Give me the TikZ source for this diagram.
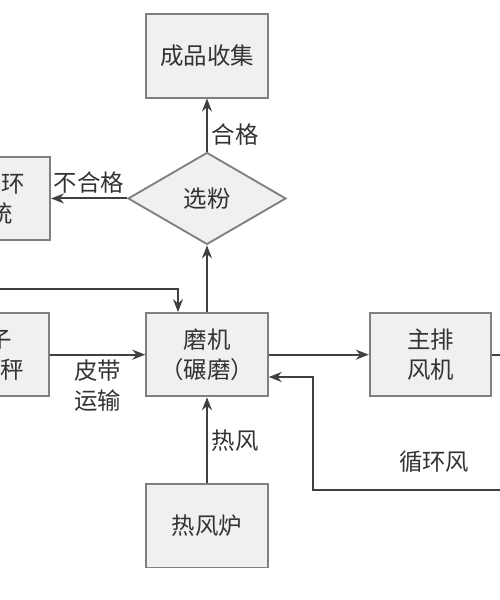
\documentclass[tikz,border=0pt]{standalone}
\usepackage{fontspec}
\setmainfont{Noto Sans CJK SC}
\usetikzlibrary{positioning,shapes.geometric,arrows.meta}

\begin{document}
\begin{tikzpicture}[->,>={Stealth[length=11pt,width=8.5pt]},line width=1.7pt,draw=black!75,
  font=\fontsize{20}{26}\selectfont,text=black!80,
  proc/.style={rectangle,draw=black!50,fill=black!6,line width=1.6pt,
    minimum width=3.65cm,minimum height=2.5cm,align=center},
  test/.style={diamond,draw=black!50,fill=black!6,line width=1.6pt,
    minimum width=4.74cm,minimum height=2.76cm,inner sep=0pt}]
   \useasboundingbox (0,0) rectangle (15,-18);
   \clip (0,0) rectangle (15,-18);
   % boxes
   \node[proc]                     (mill)  at (6.21,-10.64) {磨机\\（碾磨）};
   \node[test,above=2cm of mill]    (sel)   {选粉};
   \node[proc,above=1.59cm of sel]  (prod)  {成品收集};
   \node[proc,below=2.58cm of mill] (oven)  {热风炉};
   \node[proc,right=3cm of mill]    (fan)   {主排\\风机};
   \node[proc,left=2.85cm of mill]  (scale) {电子\\皮带秤};
   \node[proc,left=2.28cm of sel]   (loop)  {外循环\\系统};
   % loose ends
   \coordinate (feed) at (-1,-8.67);
   \coordinate[right=1cm of fan] (exhaust);
   \coordinate (back) at (16,-14.7);
   % flows
   \draw (sel)   -- node[right,pos=0.32] {合格} (prod);
   \draw (sel)   -- node[above] {不合格} (loop);
   \draw (mill)  -- (sel);
   \draw (scale) -- node[below,align=center] {皮带\\运输} (mill);
   \draw (mill)  -- (fan);
   \draw (oven)  -- node[right] {热风} (mill);
   \draw (feed)  -| ([xshift=-0.87cm]mill.north);
   \draw[-] (fan) -- (exhaust);
   \draw (back)  -- node[above=0.37cm,pos=0.45] {循环风} ++(-6.61,0)
                 |- ([yshift=-0.67cm]mill.east);
\end{tikzpicture}
\end{document}
